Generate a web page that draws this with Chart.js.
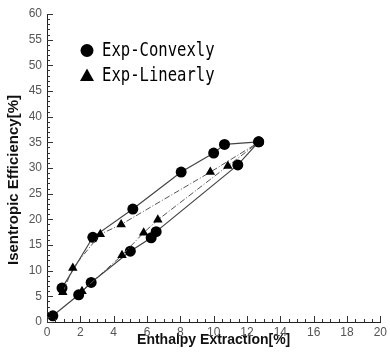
<!DOCTYPE html>
<html>
<head>
<meta charset="utf-8">
<script src="https://cdn.jsdelivr.net/npm/chart.js@4/dist/chart.umd.min.js"></script>
<style>
html,body{margin:0;padding:0;background:#fff;}
#wrap{width:390px;height:352px;}
</style>
</head>
<body>
<div id="wrap"><canvas id="c" width="390" height="352"></canvas></div>
<script>
// ---- data ----
const convexUpperX = [0.9, 2.75, 5.15, 8.05, 10.0, 10.65, 12.7];
const convexUpperY = [6.6, 16.5, 22.0, 29.2, 32.9, 34.6, 35.1];
const convexLowerX = [0.35, 1.9, 2.65, 5.0, 6.25, 6.55, 11.45, 12.7];
const convexLowerY = [1.2, 5.3, 7.7, 13.8, 16.4, 17.6, 30.6, 35.1];
const linearUpperX = [0.95, 1.55, 3.2, 4.45, 9.8, 12.7];
const linearUpperY = [5.8, 10.5, 17.1, 19.0, 29.2, 35.0];
const linearLowerX = [2.1, 4.5, 5.8, 6.65, 10.85, 12.7];
const linearLowerY = [6.0, 13.0, 17.4, 19.9, 30.4, 35.0];
const seriesNames = ['Exp-Convexly', 'Exp-Linearly'];
const xTitle = 'Enthalpy Extraction[%]';
const yTitle = 'Isentropic Efficiency[%]';
const xTicks = [0, 2, 4, 6, 8, 10, 12, 14, 16, 18, 20];
const yTicks = [0, 5, 10, 15, 20, 25, 30, 35, 40, 45, 50, 55, 60];

function pts(xs, ys){ return xs.map((x,i)=>({x:x, y:ys[i]})); }

const solid = {borderColor:'#444', borderWidth:1.2, showLine:true, pointStyle:'circle',
  pointRadius:5.5, pointBackgroundColor:'#000', pointBorderColor:'#000', pointBorderWidth:0};
const dashed = {borderColor:'#555', borderWidth:1, borderDash:[6,2,1,2], showLine:true, pointStyle:'triangle',
  pointRadius:5.5, pointBackgroundColor:'#000', pointBorderColor:'#000', pointBorderWidth:0};

const datasets = [
  Object.assign({label:seriesNames[1], data:pts(linearUpperX, linearUpperY)}, dashed),
  Object.assign({label:seriesNames[1], data:pts(linearLowerX, linearLowerY)}, dashed),
  Object.assign({label:seriesNames[0], data:pts(convexUpperX, convexUpperY)}, solid),
  Object.assign({label:seriesNames[0], data:pts(convexLowerX, convexLowerY)}, solid)
];

const innerTicks = {
  id:'innerTicks',
  afterDatasetsDraw(chart){
    const ctx = chart.ctx, xs = chart.scales.x, ys = chart.scales.y, a = chart.chartArea;
    ctx.save();
    ctx.strokeStyle = '#333'; ctx.lineWidth = 1;
    ctx.beginPath();
    for (let v = 0; v <= 20.001; v += 0.5){
      const px = Math.round(xs.getPixelForValue(v)) + 0.5;
      const major = Math.abs(v/2 - Math.round(v/2)) < 1e-6;
      const len = major ? 6 : 3;
      ctx.moveTo(px, a.bottom); ctx.lineTo(px, a.bottom - len);
    }
    for (let v = 0; v <= 60.001; v += 1){
      const py = Math.round(ys.getPixelForValue(v)) + 0.5;
      const major = v % 5 === 0;
      const len = major ? 6 : 3;
      ctx.moveTo(a.left, py); ctx.lineTo(a.left + len, py);
    }
    ctx.stroke();
    ctx.restore();
  },
  afterDraw(chart){
    const ctx = chart.ctx, a = chart.chartArea;
    ctx.save();
    // y-axis title
    ctx.translate(14, (a.top + a.bottom)/2 + 12);
    ctx.rotate(-Math.PI/2);
    ctx.font = 'bold 15px "Liberation Sans", Arial, sans-serif';
    ctx.fillStyle = '#111';
    ctx.textAlign = 'center'; ctx.textBaseline = 'middle';
    ctx.fillText(yTitle, 0, 0);
    ctx.restore();

    // legend
    ctx.save();
    ctx.fillStyle = '#000';
    ctx.beginPath(); ctx.arc(87, 50.5, 6.5, 0, Math.PI*2); ctx.fill();
    ctx.beginPath();
    ctx.moveTo(87, 68.5); ctx.lineTo(94, 81); ctx.lineTo(80, 81); ctx.closePath(); ctx.fill();
    ctx.font = '19px "DejaVu Sans Mono", monospace';
    ctx.textBaseline = 'middle'; ctx.textAlign = 'left';
    const rows = [[seriesNames[0], 51], [seriesNames[1], 76]];
    rows.forEach(r => {
      ctx.save();
      ctx.translate(102, r[1]);
      ctx.scale(0.82, 1);
      ctx.fillText(r[0], 0, 0);
      ctx.restore();
    });
    ctx.restore();
  }
};

new Chart(document.getElementById('c'), {
  type:'scatter',
  data:{datasets:datasets},
  options:{
    responsive:false, animation:false, devicePixelRatio:1,
    layout:{padding:{top:14, right:7, left:0, bottom:0}},
    plugins:{legend:{display:false}, tooltip:{enabled:false}},
    elements:{line:{tension:0}},
    scales:{
      x:{type:'linear', min:0, max:20,
        afterFit(s){ s.height = 30; },
        afterBuildTicks(s){ s.ticks = xTicks.map(v=>({value:v})); },
        ticks:{color:'#555', font:{family:'"Liberation Sans", Arial, sans-serif', size:12}, padding:3, maxRotation:0},
        grid:{display:false, drawTicks:false},
        border:{display:true, color:'#222', width:1},
        title:{display:true, text:xTitle, color:'#111', font:{family:'"Liberation Sans", Arial, sans-serif', size:14, weight:'bold'}, padding:{top:0, bottom:3}}
      },
      y:{type:'linear', min:0, max:60,
        afterFit(s){ s.width = 47; },
        afterBuildTicks(s){ s.ticks = yTicks.map(v=>({value:v})); },
        ticks:{color:'#555', font:{family:'"Liberation Sans", Arial, sans-serif', size:12}, padding:5},
        grid:{display:false, drawTicks:false},
        border:{display:true, color:'#222', width:1}
      }
    }
  },
  plugins:[innerTicks]
});
</script>
</body>
</html>
